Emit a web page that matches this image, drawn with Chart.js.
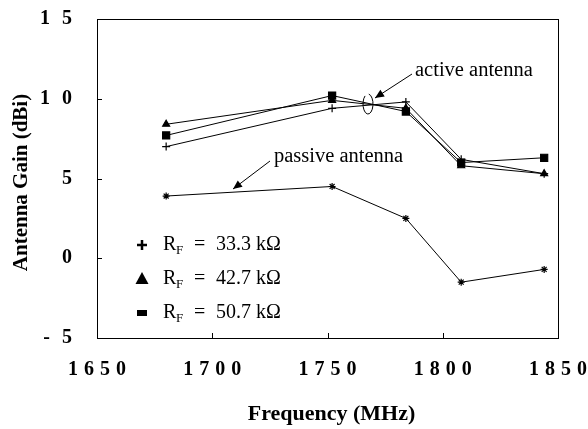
<!DOCTYPE html>
<html><head><meta charset="utf-8">
<script src="https://cdn.jsdelivr.net/npm/chart.js@4/dist/chart.umd.min.js"></script>
<style>html,body{margin:0;padding:0;background:#fff}#wrap{width:588px;height:429px;position:relative}</style>
</head><body><div id="wrap"><canvas id="c" width="588" height="429"></canvas></div>
<script>
const freqs = [1680, 1752, 1784, 1808, 1844];
const rf333 = [7.0, 9.4, 9.8, 6.2, 5.3];
const rf427 = [8.4, 9.9, 9.4, 5.8, 5.3];
const rf507 = [7.7, 10.2, 9.2, 6.0, 6.3];
const passive = [3.9, 4.5, 2.5, -1.5, -0.7];
const xTicks = [1650, 1700, 1750, 1800, 1850];
const yTicks = [15, 10, 5, 0, -5];
const legendLabels = ['33.3 kΩ', '42.7 kΩ', '50.7 kΩ'];

const toPts = (ys) => freqs.map((f, i) => ({x: f, y: ys[i]}));
const ds = (label, ys, style, r) => ({label, data: toPts(ys), borderColor:'#000', backgroundColor:'#000',
  borderWidth:1, pointStyle:style, pointRadius:r, pointBorderWidth:1.2, tension:0, fill:false});

const serif = '"Liberation Serif","DejaVu Serif",serif';

const deco = {
  id:'deco',
  afterDraw(chart){
    const {ctx, chartArea:a, scales:{x, y}} = chart;
    ctx.save();
    ctx.strokeStyle = '#000'; ctx.fillStyle = '#000'; ctx.lineWidth = 1;
    // frame
    ctx.strokeRect(a.left + 0.5, a.top + 0.5, a.right - a.left, a.bottom - a.top);
    // ticks inward
    ctx.beginPath();
    yTicks.forEach(v => { const py = Math.round(y.getPixelForValue(v)) + 0.5; ctx.moveTo(a.left, py); ctx.lineTo(a.left + 5, py); });
    xTicks.forEach(v => { const px = Math.round(x.getPixelForValue(v)) + 0.5; ctx.moveTo(px, a.bottom); ctx.lineTo(px, a.bottom - 5); });
    ctx.stroke();
    // tick labels
    ctx.font = 'bold 20px ' + serif;
    ctx.textBaseline = 'middle';
    ctx.textAlign = 'right';
    ctx.letterSpacing = '12px';
    yTicks.forEach(v => {
      ctx.fillText(String(v), a.left - 25 + 12, y.getPixelForValue(v));
    });
    ctx.textAlign = 'center';
    ctx.letterSpacing = '6px';
    xTicks.forEach(v => {
      ctx.fillText(String(v), x.getPixelForValue(v) + 3, a.bottom + 32);
    });
    ctx.letterSpacing = '0px';
    // axis titles
    ctx.font = 'bold 22px ' + serif;
    ctx.fillText('Frequency (MHz)', (a.left + a.right) / 2 + 4, a.bottom + 76);
    ctx.save();
    ctx.translate(22, (a.top + a.bottom) / 2 + 4);
    ctx.rotate(-Math.PI / 2);
    ctx.font = 'bold 21px ' + serif;
    ctx.fillText('Antenna Gain (dBi)', 0, 0);
    ctx.restore();
    // annotations
    ctx.font = '20.5px ' + serif;
    ctx.textAlign = 'left';
    ctx.fillText('active antenna', 415, 71);
    ctx.fillText('passive antenna', 274, 157);
    const arrow = (x1, y1, x2, y2) => {
      ctx.beginPath(); ctx.moveTo(x1, y1); ctx.lineTo(x2, y2); ctx.stroke();
      const ang = Math.atan2(y2 - y1, x2 - x1), L = 9, W = 4;
      ctx.beginPath();
      ctx.moveTo(x2, y2);
      ctx.lineTo(x2 - L*Math.cos(ang) + W*Math.sin(ang), y2 - L*Math.sin(ang) - W*Math.cos(ang));
      ctx.lineTo(x2 - L*Math.cos(ang) - W*Math.sin(ang), y2 - L*Math.sin(ang) + W*Math.cos(ang));
      ctx.closePath(); ctx.fill();
    };
    arrow(412, 74, 375, 98);
    arrow(270, 161, 233, 189);
    ctx.beginPath();
    ctx.ellipse(368, 104, 5, 10, 0, -Math.PI * 0.45, Math.PI * 1.3);
    ctx.stroke();
    // legend
    const lx = 142, rows = [245, 279, 313];
    ctx.lineWidth = 2.5;
    ctx.beginPath();
    ctx.moveTo(lx - 5, rows[0]); ctx.lineTo(lx + 5, rows[0]);
    ctx.moveTo(lx, rows[0] - 5); ctx.lineTo(lx, rows[0] + 5);
    ctx.stroke();
    ctx.lineWidth = 1;
    ctx.beginPath();
    ctx.moveTo(lx, rows[1] - 7); ctx.lineTo(lx + 6.5, rows[1] + 5); ctx.lineTo(lx - 6.5, rows[1] + 5); ctx.closePath(); ctx.fill();
    ctx.fillRect(lx - 5, rows[2] - 3, 10, 6);
    rows.forEach((ry, i) => {
      ctx.font = '20px ' + serif;
      ctx.fillText('R', 163, ry);
      ctx.font = '13px ' + serif;
      ctx.fillText('F', 176, ry + 6);
      ctx.font = '20px ' + serif;
      ctx.fillText('=', 194, ry);
      ctx.fillText(legendLabels[i], 216, ry);
    });
    ctx.restore();
  }
};

new Chart(document.getElementById('c'), {
  type:'line',
  data:{datasets:[
    ds('R_F = 33.3 kΩ', rf333, 'cross', 4),
    ds('R_F = 42.7 kΩ', rf427, 'triangle', 4),
    ds('R_F = 50.7 kΩ', rf507, 'rect', 5),
    ds('passive antenna', passive, 'star', 3.5)
  ]},
  options:{
    responsive:false, animation:false,
    layout:{padding:{left:97, top:19, right:30, bottom:91}},
    plugins:{legend:{display:false}, tooltip:{enabled:false}},
    scales:{
      x:{type:'linear', min:1650, max:1850, display:true, grid:{display:false, drawTicks:false}, border:{display:false}, ticks:{display:false},
         afterFit(s){ s.height = 0; }},
      y:{type:'linear', min:-5, max:15, display:true, grid:{display:false, drawTicks:false}, border:{display:false}, ticks:{display:false},
         afterFit(s){ s.width = 0; }}
    }
  },
  plugins:[deco]
});
</script></body></html>
